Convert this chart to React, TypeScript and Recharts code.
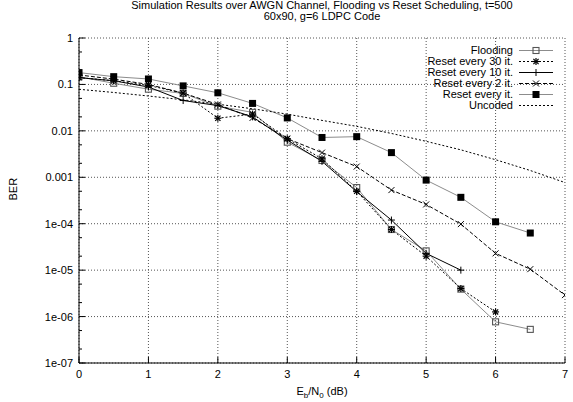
import { LineChart, Line, XAxis, YAxis, CartesianGrid, Legend } from 'recharts'

// Eb/N0 grid shared by all curves (each curve uses a prefix of it)
const ebn0 = [0, 0.5, 1, 1.5, 2, 2.5, 3, 3.5, 4, 4.5, 5, 5.5, 6, 6.5, 7]

const flooding = [0.146, 0.106, 0.079, 0.064, 0.034, 0.025, 0.0057, 0.0023, 0.0006, 7.5e-5, 2.6e-5, 3.9e-6, 7.7e-7, 5.3e-7]
const reset30 = [0.14, 0.12, 0.095, 0.065, 0.0187, 0.023, 0.0068, 0.0025, 0.0005, 7.5e-5, 2e-5, 4e-6, 1.26e-6]
const reset10 = [0.14, 0.12, 0.088, 0.045, 0.035, 0.02, 0.0063, 0.0022, 0.00049, 1.2e-4, 2.3e-5, 1e-5]
const reset2 = [0.16, 0.13, 0.1, 0.065, 0.037, 0.019, 0.0068, 0.0034, 0.0017, 5.3e-4, 2.6e-4, 9.8e-5, 2.3e-5, 1.05e-5, 2.9e-6]
const resetEvery = [0.18, 0.147, 0.131, 0.093, 0.066, 0.039, 0.019, 0.0072, 0.0075, 0.0034, 0.00087, 3.7e-4, 1.1e-4, 6.3e-5]
const uncoded = [0.0786, 0.0671, 0.0563, 0.0466, 0.0375, 0.0299, 0.0229, 0.0168, 0.0125, 0.0088, 0.00595, 0.0039, 0.00239, 0.0014, 0.00077]

const xTicks = [0, 1, 2, 3, 4, 5, 6, 7]
const yTicks = [1, 0.1, 0.01, 0.001, 1e-4, 1e-5, 1e-6, 1e-7]
const yTickLabels = ['1', '0.1', '0.01', '0.001', '1e-04', '1e-05', '1e-06', '1e-07']
const yMinorTicks = [0.5, 0.2, 0.05, 0.02, 0.005, 0.002, 5e-4, 2e-4, 5e-5, 2e-5, 5e-6, 2e-6, 5e-7, 2e-7]

const FONT = '"Liberation Sans", Arial, Helvetica, sans-serif'

type Mark = 'openSquare' | 'star' | 'plus' | 'cross' | 'filledSquare' | 'none'

const series: { name: string; values: number[]; stroke: string; dash?: string; mark: Mark }[] = [
  { name: 'Flooding', values: flooding, stroke: '#8c8c8c', mark: 'openSquare' },
  { name: 'Reset every 30 it.', values: reset30, stroke: '#000', dash: '2 2', mark: 'star' },
  { name: 'Reset every 10 it.', values: reset10, stroke: '#000', mark: 'plus' },
  { name: 'Reset every 2 it.', values: reset2, stroke: '#000', dash: '4 2', mark: 'cross' },
  { name: 'Reset every it.', values: resetEvery, stroke: '#8c8c8c', mark: 'filledSquare' },
  { name: 'Uncoded', values: uncoded, stroke: '#000', dash: '2 2', mark: 'none' },
]

function Marker({ mark, cx, cy }: { mark: Mark; cx: number; cy: number }) {
  if (cx == null || cy == null || isNaN(cx) || isNaN(cy)) return null
  switch (mark) {
    case 'openSquare':
      return <rect x={cx - 3} y={cy - 3} width={6} height={6} fill="none" stroke="#555" strokeWidth={1.1} />
    case 'filledSquare':
      return <rect x={cx - 3.5} y={cy - 3.5} width={7} height={7} fill="#000" />
    case 'plus':
      return (
        <g stroke="#000" strokeWidth={1}>
          <line x1={cx - 3.5} x2={cx + 3.5} y1={cy} y2={cy} />
          <line x1={cx} x2={cx} y1={cy - 3.5} y2={cy + 3.5} />
        </g>
      )
    case 'cross':
      return (
        <g stroke="#000" strokeWidth={1}>
          <line x1={cx - 3} x2={cx + 3} y1={cy - 3} y2={cy + 3} />
          <line x1={cx - 3} x2={cx + 3} y1={cy + 3} y2={cy - 3} />
        </g>
      )
    case 'star':
      return (
        <g stroke="#000" strokeWidth={1.2}>
          <line x1={cx - 3.5} x2={cx + 3.5} y1={cy} y2={cy} />
          <line x1={cx} x2={cx} y1={cy - 3.5} y2={cy + 3.5} />
          <line x1={cx - 2.6} x2={cx + 2.6} y1={cy - 2.6} y2={cy + 2.6} />
          <line x1={cx - 2.6} x2={cx + 2.6} y1={cy + 2.6} y2={cy - 2.6} />
        </g>
      )
    default:
      return null
  }
}

function LeftTick(props: any) {
  const { x, y, payload } = props
  const axisX = x + 6
  const idx = yTicks.indexOf(payload.value)
  const major = idx >= 0
  return (
    <g>
      <line x1={axisX} x2={axisX + (major ? 6 : 3)} y1={y} y2={y} stroke="#000" />
      {major && (
        <text x={x} y={y} dy={4} textAnchor="end" fontSize={11} fontFamily={FONT} fill="#000">
          {yTickLabels[idx]}
        </text>
      )}
    </g>
  )
}

function RightTick(props: any) {
  const { x, y, payload } = props
  const major = yTicks.indexOf(payload.value) >= 0
  return <line x1={x} x2={x - (major ? 6 : 3)} y1={y} y2={y} stroke="#000" />
}

function BottomTick(props: any) {
  const { x, y, payload } = props
  return (
    <g>
      <line x1={x} x2={x} y1={y} y2={y - 6} stroke="#000" />
      <text x={x} y={y} dy={15} textAnchor="middle" fontSize={11} fontFamily={FONT} fill="#000">
        {payload.value}
      </text>
    </g>
  )
}

function TopTick(props: any) {
  const { x, y } = props
  return <line x1={x} x2={x} y1={y} y2={y + 6} stroke="#000" />
}

function XLabel(props: any) {
  const vb = props.viewBox
  const cx = vb.x + vb.width / 2
  return (
    <text x={cx} y={395} textAnchor="middle" fontSize={11} fontFamily={FONT} fill="#000">
      E<tspan fontSize={8} dy={3}>b</tspan>
      <tspan dy={-3}>/N</tspan>
      <tspan fontSize={8} dy={3}>0</tspan>
      <tspan dy={-3}> (dB)</tspan>
    </text>
  )
}

function LegendBox() {
  return (
    <div style={{ fontFamily: FONT, fontSize: 11, color: '#000' }}>
      {series.map((s) => (
        <div key={s.name} style={{ display: 'flex', alignItems: 'center', height: 11 }}>
          <span style={{ width: 130, textAlign: 'right', lineHeight: '11px', whiteSpace: 'nowrap' }}>{s.name}</span>
          <svg width={40} height={11} style={{ marginLeft: 5 }}>
            <line x1={1} x2={35} y1={5.5} y2={5.5} stroke={s.stroke} strokeDasharray={s.dash} />
            <Marker mark={s.mark} cx={18} cy={5.5} />
          </svg>
        </div>
      ))}
    </div>
  )
}

export default function App() {
  return (
    <div style={{ position: 'absolute', left: 0, top: 0, width: 573, height: 402, background: '#fff' }}>
      <div
        style={{
          position: 'absolute',
          left: 22,
          top: 0,
          width: 600,
          textAlign: 'center',
          fontFamily: FONT,
          fontSize: 11,
          lineHeight: '11px',
          color: '#000',
        }}
      >
        Simulation Results over AWGN Channel, Flooding vs Reset Scheduling, t=500
        <br />
        60x90, g=6 LDPC Code
      </div>
      <LineChart width={573} height={402} margin={{ top: 38, right: 8, bottom: 9, left: 19 }}>
        <CartesianGrid
          stroke="#555"
          strokeDasharray="1 2"
          horizontalValues={yTicks}
          verticalValues={xTicks}
        />
        <XAxis
          dataKey="x"
          type="number"
          domain={[0, 7]}
          ticks={xTicks}
          interval={0}
          allowDataOverflow
          height={30}
          tickLine={false}
          tickSize={0}
          tickMargin={0}
          tick={<BottomTick />}
          axisLine={{ stroke: '#000' }}
          label={<XLabel />}
        />
        <XAxis
          xAxisId="top"
          orientation="top"
          type="number"
          domain={[0, 7]}
          ticks={xTicks}
          interval={0}
          allowDataOverflow
          height={0}
          tickLine={false}
          tickSize={0}
          tickMargin={0}
          tick={<TopTick />}
          axisLine={{ stroke: '#000' }}
        />
        <YAxis
          type="number"
          scale="log"
          domain={[1e-7, 1]}
          ticks={[...yTicks, ...yMinorTicks]}
          interval={0}
          allowDataOverflow
          width={60}
          tickLine={false}
          tickSize={0}
          tickMargin={6}
          tick={<LeftTick />}
          axisLine={{ stroke: '#000' }}
          label={{ value: 'BER', angle: -90, position: 'insideLeft', offset: -6, fontSize: 11, fontFamily: FONT, fill: '#000' }}
        />
        <YAxis
          yAxisId="right"
          orientation="right"
          type="number"
          scale="log"
          domain={[1e-7, 1]}
          ticks={[...yTicks, ...yMinorTicks]}
          interval={0}
          allowDataOverflow
          width={0}
          tickLine={false}
          tickSize={0}
          tickMargin={0}
          tick={<RightTick />}
          axisLine={{ stroke: '#000' }}
        />
        {series.map((s) => (
          <Line
            key={s.name}
            name={s.name}
            data={s.values.map((v, i) => ({ x: ebn0[i], y: v }))}
            dataKey="y"
            stroke={s.stroke}
            strokeWidth={1}
            strokeDasharray={s.dash}
            dot={(p: any) => <Marker key={`${s.name}-${p.index}`} mark={s.mark} cx={p.cx} cy={p.cy} />}
            activeDot={false}
            isAnimationActive={false}
          />
        ))}
        <Legend
          layout="vertical"
          align="center"
          verticalAlign="middle"
          wrapperStyle={{ left: 383, top: 44.5, width: 180 }}
          content={() => <LegendBox />}
        />
      </LineChart>
    </div>
  )
}
